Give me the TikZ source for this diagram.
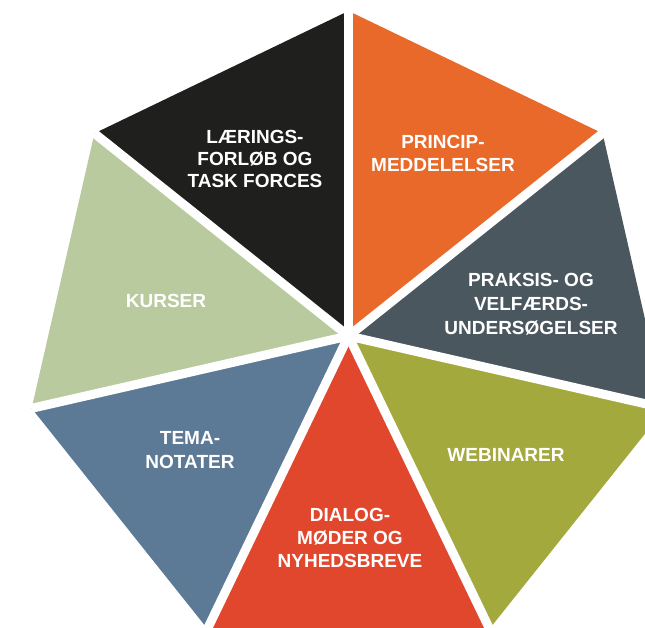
\documentclass[tikz,border=0pt]{standalone}
\usepackage{fontspec}
\setmainfont{Liberation Sans}
\definecolor{cblack}{HTML}{1F1F1D}
\definecolor{corange}{HTML}{E8692A}
\definecolor{cgray}{HTML}{4B575E}
\definecolor{colive}{HTML}{A4A93E}
\definecolor{cred}{HTML}{E0472C}
\definecolor{cblue}{HTML}{5C7A96}
\definecolor{csage}{HTML}{B9CA9E}
\begin{document}
\begin{tikzpicture}[x=1pt,y=-1pt,
  gap/.style={white, line width=9pt},
  lbl/.style={text=white, font=\bfseries\fontsize{19}{23}\selectfont, align=center, inner sep=0pt}]
\useasboundingbox (0,0) rectangle (645,628);
\clip (0,0) rectangle (645,628);
\coordinate (c) at (348.5,336);
\foreach \i in {0,...,6}{
  \coordinate (v\i) at ({348.5+325*sin(\i*360/7)},{336-325*cos(\i*360/7)});
}
\fill[cblack]  (c) -- (v6) -- (v0) -- cycle;
\fill[corange] (c) -- (v0) -- (v1) -- cycle;
\fill[cgray]   (c) -- (v1) -- (v2) -- cycle;
\fill[colive]  (c) -- (v2) -- (v3) -- cycle;
\fill[cred]    (c) -- (v3) -- (v4) -- cycle;
\fill[cblue]   (c) -- (v4) -- (v5) -- cycle;
\fill[csage]   (c) -- (v5) -- (v6) -- cycle;
\foreach \i in {0,...,6}{
  \draw[gap] (c) -- (v\i);
}
\node[lbl, font=\bfseries\fontsize{19}{22}\selectfont] (t1) at (255,159) {LÆRINGS-\\FORLØB OG\\TASK FORCES};
\node[lbl] (t2) at (443,153.5) {PRINCIP-\\MEDDELELSER};
\node[lbl, font=\bfseries\fontsize{19}{24}\selectfont] (t3) at (531,304) {PRAKSIS- OG\\VELFÆRDS-\\UNDERSØGELSER};
\node[lbl] (t4) at (506,455) {WEBINARER};
\node[lbl] (t5) at (350,538) {DIALOG-\\MØDER OG\\NYHEDSBREVE};
\node[lbl, font=\bfseries\fontsize{19}{24}\selectfont] (t6) at (190,450) {TEMA-\\NOTATER};
\node[lbl] (t7) at (166,301) {KURSER};
\end{tikzpicture}
\end{document}
